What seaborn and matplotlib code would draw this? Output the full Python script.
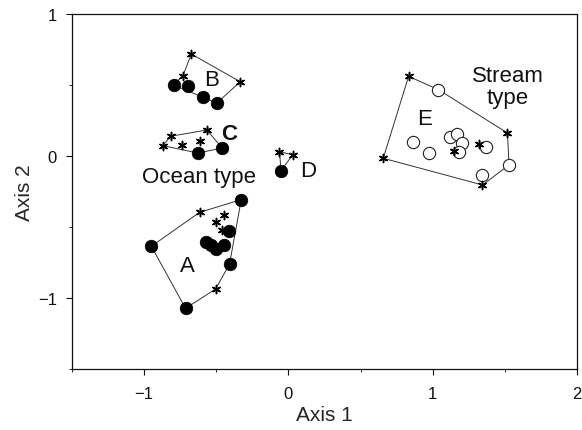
import numpy as np
import pandas as pd
import matplotlib
matplotlib.use("Agg")
import matplotlib.pyplot as plt
import seaborn as sns

# ---------------- data ----------------
# Group A (ocean type, filled circles + asterisks)
A_circ_x = [-0.327, -0.950, -0.713, -0.408, -0.413, -0.574, -0.505, -0.448, -0.540]
A_circ_y = [-0.307, -0.636, -1.073, -0.761, -0.530, -0.603, -0.655, -0.627, -0.627]
A_star_x = [-0.616, -0.500, -0.448, -0.459, -0.505]
A_star_y = [-0.397, -0.462, -0.415, -0.519, -0.937]
A_hull = [("c", 0), ("s", 0), ("c", 1), ("c", 2), ("s", 4), ("c", 3)]

# Group B
B_circ_x = [-0.796, -0.697, -0.593, -0.496]
B_circ_y = [0.500, 0.495, 0.413, 0.373]
B_star_x = [-0.673, -0.731, -0.334]
B_star_y = [0.718, 0.566, 0.523]
B_hull = [("s", 0), ("s", 2), ("c", 3), ("c", 0), ("s", 1)]

# Group C
C_circ_x = [-0.628, -0.459]
C_circ_y = [0.021, 0.056]
C_star_x = [-0.817, -0.870, -0.738, -0.616, -0.565]
C_star_y = [0.139, 0.073, 0.080, 0.103, 0.183]
C_hull = [("s", 1), ("s", 0), ("s", 4), ("c", 1), ("c", 0)]

# Group D
D_circ_x = [-0.051]
D_circ_y = [-0.103]
D_star_x = [-0.062, 0.030]
D_star_y = [0.030, 0.009]
D_hull = [("s", 0), ("s", 1), ("c", 0)]

# Group E (stream type, open circles + asterisks)
E_circ_x = [1.040, 0.860, 0.976, 1.119, 1.165, 1.202, 1.179, 1.368, 1.529, 1.345]
E_circ_y = [0.467, 0.101, 0.021, 0.132, 0.155, 0.092, 0.026, 0.061, -0.063, -0.134]
E_star_x = [0.833, 0.657, 1.345, 1.518, 1.149, 1.322]
E_star_y = [0.561, -0.016, -0.204, 0.162, 0.033, 0.085]
E_hull = [("s", 0), ("c", 0), ("s", 3), ("c", 8), ("s", 2), ("s", 1)]

group_names = ["A", "B", "C", "D", "E"]
x_ticks = [-1, 0, 1, 2]
y_ticks = [-1, 0, 1]
x_label = "Axis 1"
y_label = "Axis 2"

groups = {
    "A": (A_circ_x, A_circ_y, A_star_x, A_star_y, A_hull),
    "B": (B_circ_x, B_circ_y, B_star_x, B_star_y, B_hull),
    "C": (C_circ_x, C_circ_y, C_star_x, C_star_y, C_hull),
    "D": (D_circ_x, D_circ_y, D_star_x, D_star_y, D_hull),
    "E": (E_circ_x, E_circ_y, E_star_x, E_star_y, E_hull),
}

# ---------------- style ----------------
sns.set_style("ticks")
plt.rcParams["font.family"] = ["Liberation Sans", "DejaVu Sans"]
plt.rcParams["axes.linewidth"] = 0.9

fig = plt.figure(figsize=(5.82, 4.31), dpi=100)
ax = fig.add_axes([72 / 582, 1 - 370 / 431, 505 / 582, 355 / 431])

asterisk = (6, 2, 0)

for g in group_names:
    cx, cy, sx, sy, hull = groups[g]
    # hull polygon
    hx, hy = [], []
    for kind, i in hull:
        if kind == "c":
            hx.append(cx[i]); hy.append(cy[i])
        else:
            hx.append(sx[i]); hy.append(sy[i])
    hx.append(hx[0]); hy.append(hy[0])
    ax.plot(hx, hy, color="#333333", lw=0.7, zorder=1)

    dfc = pd.DataFrame({"x": cx, "y": cy})
    dfs = pd.DataFrame({"x": sx, "y": sy})
    if g == "E":
        sns.scatterplot(data=dfc, x="x", y="y", ax=ax, marker="o", s=78,
                        facecolor="white", edgecolor="#222222", linewidth=0.8,
                        zorder=3)
    else:
        sns.scatterplot(data=dfc, x="x", y="y", ax=ax, marker="o", s=82,
                        color="black", edgecolor="black", linewidth=0.5,
                        zorder=3)
    sns.scatterplot(data=dfs, x="x", y="y", ax=ax, marker=asterisk, s=34,
                    color="black", edgecolor="black", linewidth=1.1, zorder=4)

# text labels
txt_kw = dict(ha="center", va="center", fontsize=16, color="#111111")
ax.text(-0.535, 0.54, "B", **txt_kw)
ax.text(-0.408, 0.155, "C", fontweight="bold", **txt_kw)
ax.text(0.134, -0.103, "D", **txt_kw)
ax.text(-0.697, -0.768, "A", **txt_kw)
ax.text(0.941, 0.265, "E", **txt_kw)
ax.text(-0.620, -0.145, "Ocean type", **txt_kw)
ax.text(1.518, 0.49, "Stream\ntype", linespacing=1.1, **txt_kw)

ax.set_xlim(-1.5, 2)
ax.set_ylim(-1.5, 1)
ax.set_xticks(x_ticks)
ax.set_yticks(y_ticks)
ax.set_xticklabels(["\u2212" + str(abs(t)) if t < 0 else str(t) for t in x_ticks])
ax.set_yticklabels(["\u2212" + str(abs(t)) if t < 0 else str(t) for t in y_ticks])
ax.set_xticks([-1.5, -0.5, 0.5, 1.5], minor=True)
ax.set_yticks([-1.5, -0.5, 0.5], minor=True)
ax.tick_params(axis="x", which="major", direction="out", length=4,
               width=0.8, labelsize=12, pad=8, colors="#111111")
ax.tick_params(axis="y", which="major", direction="out", length=4,
               width=0.8, labelsize=12, pad=7, colors="#111111")
ax.tick_params(axis="both", which="minor", direction="out", length=2.5,
               width=0.7)
ax.set_xlabel(x_label, fontsize=15, labelpad=3)
ax.set_ylabel(y_label, fontsize=15, labelpad=3)
for sp in ax.spines.values():
    sp.set_visible(True)
    sp.set_color("#111111")

fig.savefig("out.png", dpi=100)
